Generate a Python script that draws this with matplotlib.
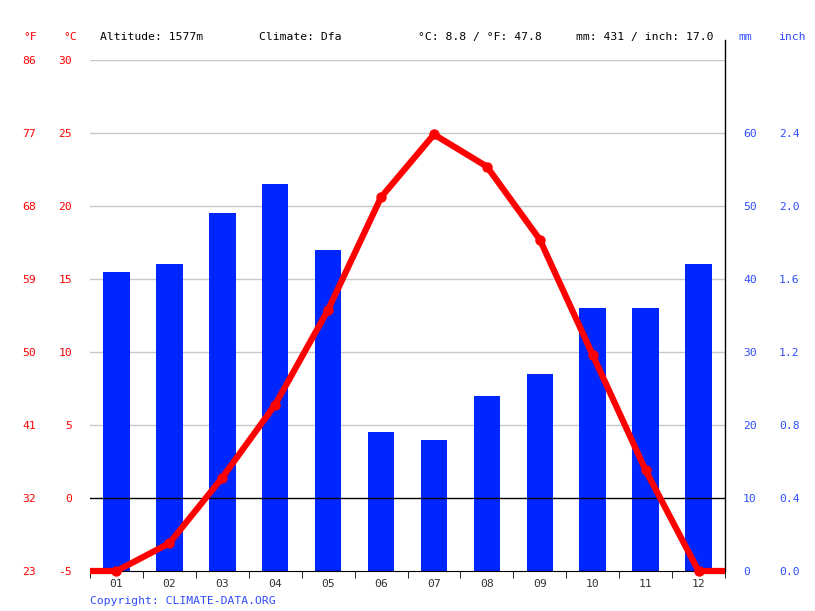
import matplotlib
matplotlib.use("Agg")
import matplotlib.pyplot as plt

months = ["01", "02", "03", "04", "05", "06", "07", "08", "09", "10", "11", "12"]
precip_mm = [41, 42, 49, 53, 44, 19, 18, 24, 27, 36, 36, 42]
temp_c = [-5.0, -3.1, 1.4, 6.4, 12.9, 20.6, 24.9, 22.7, 17.7, 9.8, 1.9, -5.0]

c_ticks = [-5, 0, 5, 10, 15, 20, 25, 30]
f_labels = ["23", "32", "41", "50", "59", "68", "77", "86"]
mm_ticks = [0, 10, 20, 30, 40, 50, 60]
inch_labels = ["0.0", "0.4", "0.8", "1.2", "1.6", "2.0", "2.4"]

header = ["Altitude: 1577m", "Climate: Dfa", "°C: 8.8 / °F: 47.8", "mm: 431 / inch: 17.0"]

plt.rcParams["font.family"] = ["DejaVu Sans Mono"]
plt.rcParams["font.size"] = 8.2

RED = "#ff0000"
BLUE = "#0026ff"
LBLUE = "#2f4dff"

fig = plt.figure(figsize=(8.15, 6.11), dpi=100)
ax2 = fig.add_axes([90/815, 1 - 571/611, 635/815, 511/611])
ax = ax2.twinx()
ax.set_zorder(ax2.get_zorder() + 1)
ax.patch.set_visible(False)

x = list(range(1, 13))

# precipitation bars (mm axis)
ax2.bar(x, precip_mm, width=0.5, color=BLUE, zorder=2)
ax2.set_ylim(0, 70)
ax2.set_xlim(0.5, 12.5)
for v in [20, 30, 40, 50, 60, 70]:
    ax2.axhline(v, color="#c8c8c8", lw=1, zorder=1)

# temperature line (°C axis)
ax.set_ylim(-5, 30)
ax.axhline(0, color="black", lw=1, zorder=3)
ax.plot([0.5] + x + [12.5], [temp_c[0]] + temp_c + [temp_c[-1]], color=RED, lw=4.5,
        zorder=5, clip_on=False, solid_capstyle="butt")
ax.plot(x, temp_c, "o", color=RED, ms=6.5, zorder=6, clip_on=False)

# spines
for a in (ax, ax2):
    for s in ["left", "top", "right"]:
        a.spines[s].set_visible(False)
ax2.spines["bottom"].set_color("black")
ax.spines["bottom"].set_visible(False)
ax.plot([1, 1], [0, 1.04], transform=ax.transAxes, color="black", lw=1, clip_on=False)

# x ticks: labels at month centres, tick marks at boundaries
ax2.set_xticks(x)
ax2.set_xticklabels(months, color="#333333")
ax2.tick_params(axis="x", which="major", length=0, pad=6)
ax2.set_xticks([i + 0.5 for i in range(0, 13)], minor=True)
ax2.tick_params(axis="x", which="minor", length=5, direction="out", color="black")

# left tick labels °C and °F
ax.yaxis.tick_left()
ax.set_yticks(c_ticks)
ax.set_yticklabels([str(c) for c in c_ticks], color=RED)
ax.tick_params(axis="y", length=0, pad=13)
for c, f in zip(c_ticks, f_labels):
    ax.text(-54/635, c, f, color=RED, ha="right", va="center_baseline",
            transform=ax.get_yaxis_transform())

# right tick labels mm and inch
ax2.yaxis.tick_right()
ax2.set_yticks(mm_ticks)
ax2.set_yticklabels([str(m) for m in mm_ticks], color=LBLUE)
ax2.tick_params(axis="y", length=0, pad=13)
for m, inch in zip(mm_ticks, inch_labels):
    ax2.text(1 + 54/635, m, inch, color=LBLUE, ha="left", va="center_baseline",
             transform=ax2.get_yaxis_transform())

# header row
hy = 1 - 36/611
fig.text(30/815, hy, "°F", color=RED, ha="center", va="center_baseline")
fig.text(70/815, hy, "°C", color=RED, ha="center", va="center_baseline")
fig.text(745/815, hy, "mm", color=LBLUE, ha="center", va="center_baseline")
fig.text(792/815, hy, "inch", color=LBLUE, ha="center", va="center_baseline")
for xs, t in zip([100, 259, 418, 576], header):
    fig.text(xs/815, hy, t, color="black", ha="left", va="center_baseline")

fig.text(90/815, 1 - 600/611, "Copyright: CLIMATE-DATA.ORG", color=LBLUE,
         ha="left", va="center_baseline")

fig.savefig("out.png", dpi=100)
